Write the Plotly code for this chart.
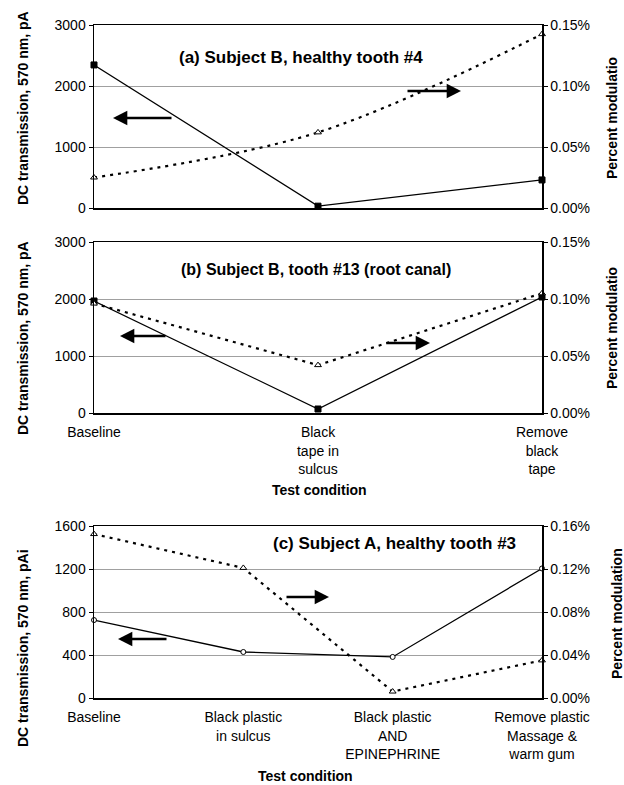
import plotly.graph_objects as go

W, H = 624, 785

# ---------------- data ----------------
COND_AB = ["Baseline", "Black<br>tape in<br>sulcus", "Remove<br>black<br>tape"]
COND_C = ["Baseline", "Black plastic<br>in sulcus", "Black plastic<br>AND<br>EPINEPHRINE",
          "Remove plastic<br>Massage &<br>warm gum"]

DC_A = [2345, 30, 460]            # pA
PM_A = [0.025, 0.062, 0.1425]     # percent
DC_B = [1965, 70, 2035]
PM_B = [0.096, 0.042, 0.105]
DC_C = [725, 428, 382, 1205]
PM_C = [0.1525, 0.121, 0.006, 0.035]

TITLES = ["(a) Subject B, healthy tooth #4",
          "(b) Subject B, tooth #13 (root canal)",
          "(c) Subject A, healthy tooth #3"]
YL_TITLES = ["DC transmission, 570 nm, pA", "DC transmission, 570 nm, pA",
             "DC transmission, 570 nm, pAi"]
YR_TITLES = ["Percent modulatio", "Percent modulatio", "Percent modulation"]
XTITLE = "Test condition"

# ---------------- helpers ----------------
def px(x):
    return x / W

def py(y):
    return 1 - y / H

FONT = "Arial, Liberation Sans, sans-serif"
X0, X1 = 94, 542
PANELS = [(25, 208), (242, 413), (526, 698)]

fig = go.Figure()

dc_style = [dict(symbol="square", size=6, color="black", line=dict(color="black", width=1)),
            dict(symbol="square", size=6, color="black", line=dict(color="black", width=1)),
            dict(symbol="circle", size=5, color="white", line=dict(color="black", width=1))]
pm_style = dict(symbol="triangle-up", size=6, color="white", line=dict(color="black", width=1))

data = [(COND_AB, DC_A, PM_A, "spline"), (COND_AB, DC_B, PM_B, "linear"),
        (COND_C, DC_C, PM_C, "linear")]

for i, (cats, dc, pm, shape) in enumerate(data):
    xa = "x" if i == 0 else f"x{i+1}"
    yl = "y" if i == 0 else f"y{2*i+1}"
    yr = f"y{2*i+2}"
    fig.add_trace(go.Scatter(x=cats, y=dc, xaxis=xa, yaxis=yl, mode="lines+markers",
                             line=dict(color="black", width=1.3), marker=dc_style[i],
                             cliponaxis=False, showlegend=False, hoverinfo="skip"))
    fig.add_trace(go.Scatter(x=cats, y=pm, xaxis=xa, yaxis=yr, mode="lines+markers",
                             line=dict(color="black", width=2.2, dash="3px,5px", shape=shape),
                             marker=pm_style, cliponaxis=False, showlegend=False,
                             hoverinfo="skip"))

layout = dict(width=W, height=H, margin=dict(l=0, r=0, t=0, b=0),
              paper_bgcolor="white", plot_bgcolor="white",
              font=dict(family=FONT, size=14, color="black"), showlegend=False)

left_rng = [[0, 3000], [0, 3000], [0, 1600]]
left_dt = [1000, 1000, 400]
right_rng = [[0, 0.15], [0, 0.15], [0, 0.16]]
right_dt = [0.05, 0.05, 0.04]

for i, (top, bot) in enumerate(PANELS):
    xk = "xaxis" if i == 0 else f"xaxis{i+1}"
    ylk = "yaxis" if i == 0 else f"yaxis{2*i+1}"
    yrk = f"yaxis{2*i+2}"
    yl = "y" if i == 0 else f"y{2*i+1}"
    xa = "x" if i == 0 else f"x{i+1}"
    ncat = 3 if i < 2 else 4
    layout[xk] = dict(domain=[px(X0), px(X1)], anchor=yl, type="category",
                      range=[0, ncat - 1], showline=True, linecolor="black", linewidth=1.5,
                      mirror=True, showgrid=False, ticks="", showticklabels=(i > 0),
                      ticklabelstandoff=6, tickfont=dict(size=14), automargin=False)
    layout[ylk] = dict(domain=[py(bot), py(top)], anchor=xa, range=left_rng[i],
                       dtick=left_dt[i], showline=True, linecolor="black", linewidth=1.5,
                       ticks="outside", ticklen=4, tickcolor="black",
                       showgrid=True, gridcolor="#a0a0a0", gridwidth=1,
                       zeroline=False, tickfont=dict(size=14), automargin=False)
    layout[yrk] = dict(overlaying=yl, side="right", anchor=xa, range=right_rng[i],
                       dtick=right_dt[i], tickformat=".2f", ticksuffix="%",
                       showline=True, linecolor="black", linewidth=1.5,
                       ticks="outside", ticklen=4, tickcolor="black",
                       showgrid=False, zeroline=False, tickfont=dict(size=14),
                       automargin=False)

fig.update_layout(**layout)

ann = []
title_pos = [(301, 58), (316, 270), (394, 543)]
title_size = [17, 16, 17]
for t, (x, y), s in zip(TITLES, title_pos, title_size):
    ann.append(dict(text=f"<b>{t}</b>", x=px(x), y=py(y), xref="paper", yref="paper",
                    showarrow=False, font=dict(size=s), xanchor="center", yanchor="middle"))

yl_pos = [108, 338, 648]
yr_pos = [118, 328, 614]
for i in range(3):
    ann.append(dict(text=f"<b>{YL_TITLES[i]}</b>", x=px(23), y=py(yl_pos[i]), xref="paper",
                    yref="paper", showarrow=False, textangle=-90, font=dict(size=14),
                    xanchor="center", yanchor="middle"))
    ann.append(dict(text=f"<b>{YR_TITLES[i]}</b>", x=px(612 if i < 2 else 617),
                    y=py(yr_pos[i]), xref="paper", yref="paper", showarrow=False,
                    textangle=-90, font=dict(size=14), xanchor="center", yanchor="middle"))

for (x, y) in [(319, 490), (305, 776)]:
    ann.append(dict(text=f"<b>{XTITLE}</b>", x=px(x), y=py(y), xref="paper", yref="paper",
                    showarrow=False, font=dict(size=14), xanchor="center", yanchor="middle"))

# arrows: (head_x, head_y, tail_x, tail_y) in pixels
arrows = [(113, 118, 173, 118), (461, 91, 406, 91),
          (120, 336, 167, 336), (430, 343, 385, 343),
          (329, 597, 285, 597), (118, 639, 168, 639)]
for hx, hy, tx, ty in arrows:
    ann.append(dict(text="", x=px(hx), y=py(hy), xref="paper", yref="paper",
                    ax=tx - hx, ay=ty - hy, axref="pixel", ayref="pixel",
                    showarrow=True, arrowhead=2, arrowsize=1.1, arrowwidth=2.6,
                    arrowcolor="black"))

fig.update_layout(annotations=ann)
fig.write_html("out.html", config={"displayModeBar": False, "staticPlot": True},
               post_script="document.body.style.margin='0';document.body.style.overflow='hidden';")
